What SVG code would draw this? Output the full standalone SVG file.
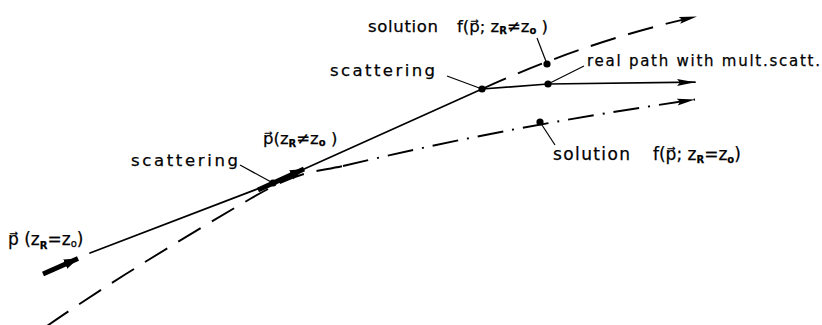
<svg xmlns="http://www.w3.org/2000/svg" width="822" height="325" viewBox="0 0 822 325">
<style>
  .lbl { font-family: "DejaVu Sans", "Liberation Sans", sans-serif; fill: #000; stroke: #000; stroke-width: 0.25; }
  .ln { fill: none; stroke: #000; stroke-width: 1.7; stroke-linecap: round; stroke-linejoin: round; }
  .dash { fill: none; stroke: #000; stroke-width: 1.9; stroke-dasharray: 26 13; }
  .dashdot { fill: none; stroke: #000; stroke-width: 1.9; stroke-dasharray: 26 9 2 9; }
  .lead { fill: none; stroke: #000; stroke-width: 1.2; }
  .thick { fill: none; stroke: #000; stroke-width: 5; stroke-linecap: butt; }
  .dot { fill: #000; }
</style>
<defs>
  <marker id="ah" markerUnits="userSpaceOnUse" markerWidth="20" markerHeight="10" refX="18" refY="5" orient="auto">
    <path d="M0,1.5 L18,5 L0,8.5 L3,5 Z" fill="#000"/>
  </marker>
  <marker id="ahb" markerUnits="userSpaceOnUse" markerWidth="16" markerHeight="12" refX="14" refY="6" orient="auto">
    <path d="M0,1 L14,6 L0,11 Z" fill="#000"/>
  </marker>
</defs>

<g id="connectors">
  <!-- real path (solid) -->
  <path class="ln" d="M90,253 L273,183 L482,89 L548,84 L695,82.2" marker-end="url(#ah)"/>
  <!-- thick momentum arrows -->
  <path class="thick" d="M43,274 L78,258.5" marker-end="url(#ahb)"/>
  <path class="thick" d="M258,190 L304,169" marker-end="url(#ahb)"/>
  <!-- lower solution: dashed then dash-dot -->
  <path class="dash" d="M47,326 C110,282 200,228 250,199 S310,173 343,166"/>
  <path class="dashdot" d="M343,166 C420,148 520,125 695,99.5" marker-end="url(#ah)"/>
  <!-- upper solution after scattering (dashed) -->
  <path class="dash" d="M482,89 Q590,40 697,16.5" marker-end="url(#ah)"/>
  <!-- leaders -->
  <path class="lead" d="M240,165 L273,183"/>
  <path class="lead" d="M447,76 L482,89"/>
  <path class="lead" d="M537,38 L547,64"/>
  <path class="lead" d="M548,84 L584,66"/>
  <path class="lead" d="M540,122 L555,145"/>
</g>

<g id="dot-scatter1"><circle class="dot" cx="273" cy="183" r="3.6"/></g>
<g id="dot-scatter2"><circle class="dot" cx="482" cy="89" r="3.6"/></g>
<g id="dot-real"><circle class="dot" cx="548" cy="84" r="3.6"/></g>
<g id="dot-sol-upper"><circle class="dot" cx="547" cy="64" r="3.6"/></g>
<g id="dot-sol-lower"><circle class="dot" cx="540" cy="122" r="3.6"/></g>

<g id="label-p-start">
  <text class="lbl" x="8" y="245" font-size="17">p⃗ (z<tspan font-size="10" font-weight="bold" dy="4">R</tspan><tspan dy="-4">=z</tspan><tspan font-size="10" dy="2">o</tspan><tspan dy="-2">)</tspan></text>
</g>
<g id="label-scattering1">
  <text class="lbl" x="131" y="166" font-size="16.5" textLength="107" lengthAdjust="spacing">scattering</text>
</g>
<g id="label-p-scatter">
  <text class="lbl" x="263" y="144" font-size="16.5">p⃗(z<tspan font-size="10" font-weight="bold" dy="3">R</tspan><tspan dy="-3">≠z</tspan><tspan font-size="10" font-weight="bold" dy="2">o</tspan><tspan dy="-2"> )</tspan></text>
</g>
<g id="label-scattering2">
  <text class="lbl" x="330" y="76" font-size="16.5" textLength="105" lengthAdjust="spacing">scattering</text>
</g>
<g id="label-sol-upper">
  <text class="lbl" y="32" font-size="16.5"><tspan x="368" textLength="70" lengthAdjust="spacing">solution</tspan><tspan x="457">f(p⃗; z<tspan font-size="10" font-weight="bold" dy="2">R</tspan><tspan dy="-2">≠z</tspan><tspan font-size="10" font-weight="bold" dy="2">o</tspan><tspan dy="-2"> )</tspan></tspan></text>
</g>
<g id="label-real-path">
  <text class="lbl" x="587" y="66" font-size="15" textLength="233" lengthAdjust="spacing">real path with mult.scatt.</text>
</g>
<g id="label-sol-lower">
  <text class="lbl" y="160" font-size="17"><tspan x="553" textLength="77" lengthAdjust="spacing">solution</tspan><tspan x="653">f(p⃗; z<tspan font-size="10" font-weight="bold" dy="3">R</tspan><tspan dy="-3">=z</tspan><tspan font-size="10" font-weight="bold" dy="3">o</tspan><tspan dy="-3">)</tspan></tspan></text>
</g>
</svg>
